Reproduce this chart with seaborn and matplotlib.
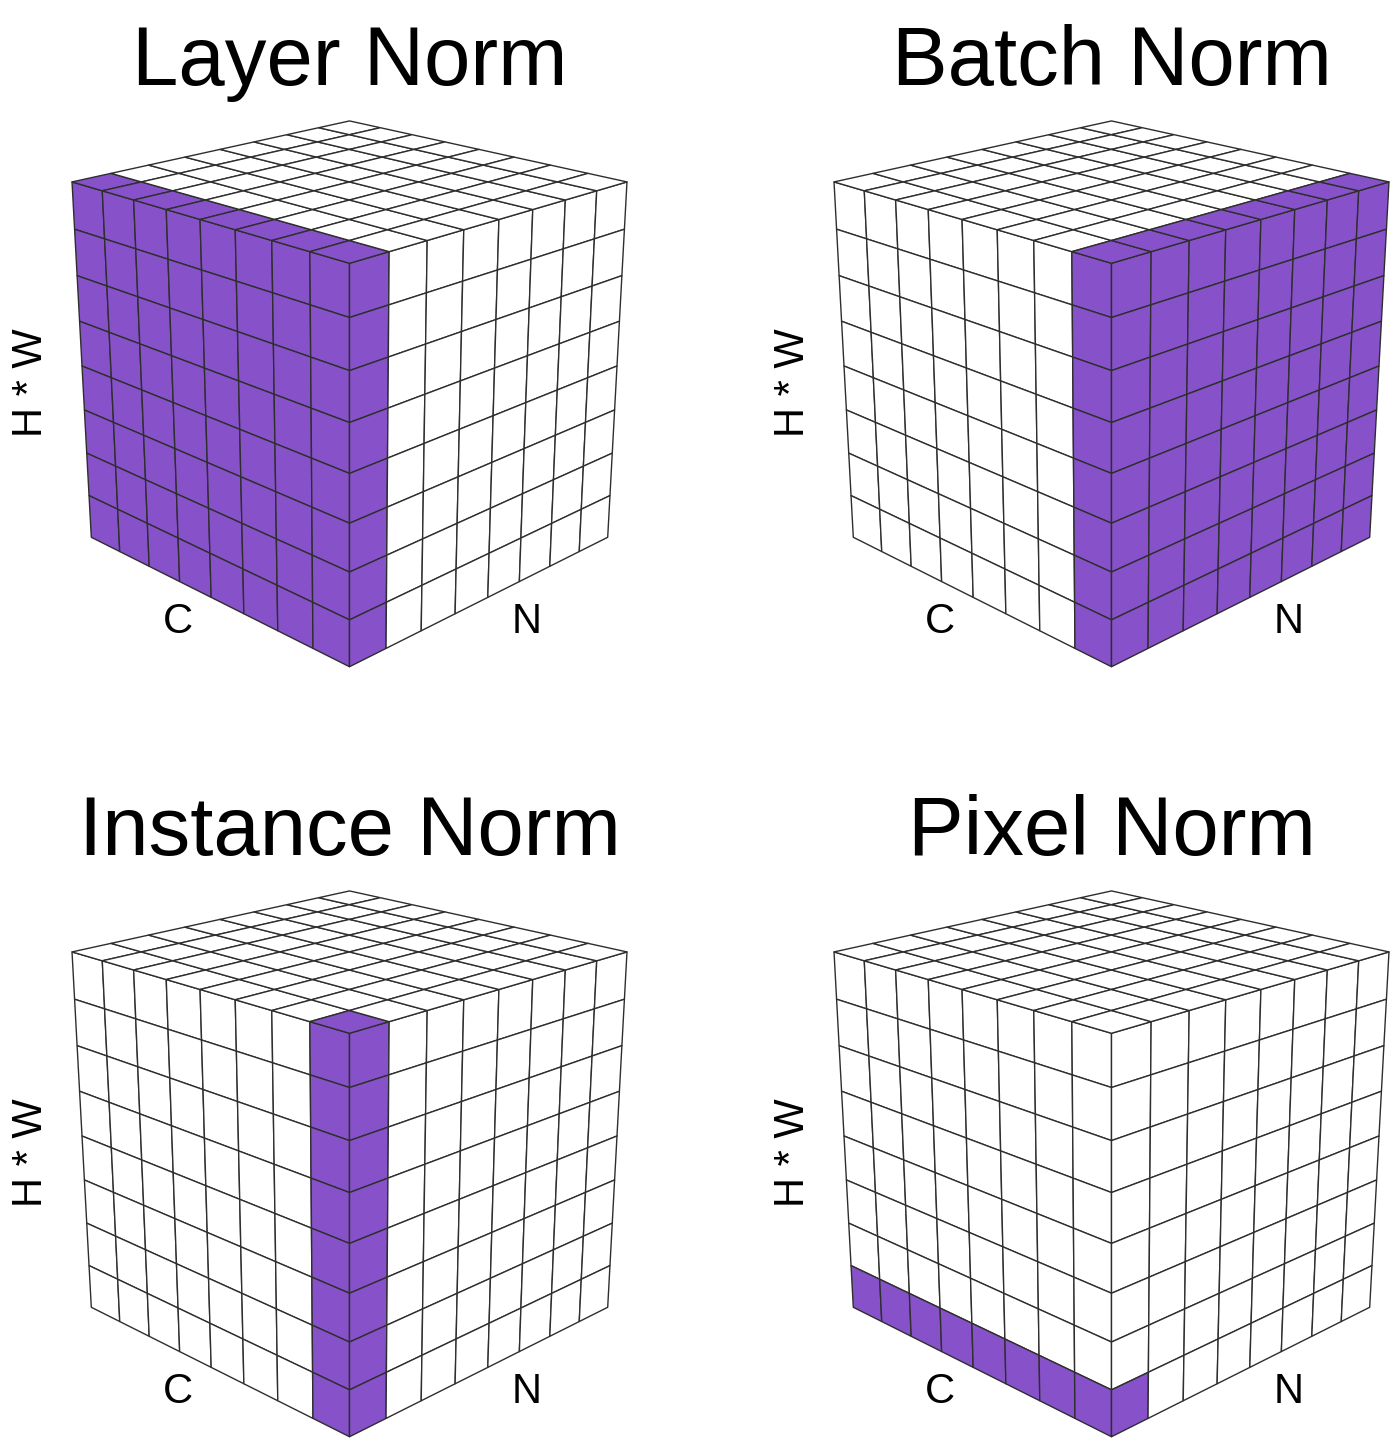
import numpy as np
import seaborn as sns
from matplotlib import pyplot as plt
from matplotlib.collections import PolyCollection

# tensor drawn as an 8 x 8 x 8 cube of cells
grid_size = 8
all_idx = list(range(grid_size))
titles = ["Layer Norm", "Batch Norm", "Instance Norm", "Pixel Norm"]
# which C / N / H*W indices each norm groups together
c_sel = [all_idx, [7], [7], all_idx]
n_sel = [[0], all_idx, [0], [0]]
hw_sel = [all_idx, all_idx, all_idx, [7]]
axis_labels = ["C", "N", "H * W"]

sns.set_theme(style="white")
plt.rcParams["font.family"] = ["Liberation Sans", "DejaVu Sans"]

purple = "#8752c9"
line_col = "#2e2e2e"

W, H = 1397, 1445
fig = plt.figure(figsize=(W / 100, H / 100), dpi=100)
ax = fig.add_axes([0, 0, 1, 1])
ax.set_xlim(0, W)
ax.set_ylim(H, 0)
ax.axis("off")

# simple perspective camera, looking down at the front vertical edge
sin_e = 0.3462
cos_e = np.sqrt(1 - sin_e ** 2)
dist, focal = 9.617, 1819
r2 = np.sqrt(0.5)
view = np.array([r2 * cos_e, -r2 * cos_e, sin_e])
right = np.array([r2, r2, 0.0])
up = np.array([-r2 * sin_e, r2 * sin_e, cos_e])


def project(pts, cx, cy):
    pts = np.asarray(pts, dtype=float)
    depth = dist - pts @ view
    return np.column_stack([cx + focal * (pts @ right) / depth,
                            cy - focal * (pts @ up) / depth])


t = np.linspace(-1, 1, grid_size + 1)
zt = np.linspace(1, -1, grid_size + 1)


def draw_cube(cx, cy, sel):
    polys, colors = [], []
    # left face (C x H*W), at the first N index
    for i in range(grid_size):
        for k in range(grid_size):
            q = [(t[i], -1, zt[k]), (t[i + 1], -1, zt[k]),
                 (t[i + 1], -1, zt[k + 1]), (t[i], -1, zt[k + 1])]
            polys.append(project(q, cx, cy))
            colors.append(purple if sel[i, 0, k] else "white")
    # right face (N x H*W), at the last C index
    for j in range(grid_size):
        for k in range(grid_size):
            q = [(1, t[j], zt[k]), (1, t[j + 1], zt[k]),
                 (1, t[j + 1], zt[k + 1]), (1, t[j], zt[k + 1])]
            polys.append(project(q, cx, cy))
            colors.append(purple if sel[grid_size - 1, j, k] else "white")
    # top face (C x N), at the first H*W index
    for i in range(grid_size):
        for j in range(grid_size):
            q = [(t[i], t[j], 1), (t[i + 1], t[j], 1),
                 (t[i + 1], t[j + 1], 1), (t[i], t[j + 1], 1)]
            polys.append(project(q, cx, cy))
            colors.append(purple if sel[i, j, 0] else "white")
    ax.add_collection(PolyCollection(polys, facecolors=colors,
                                     edgecolors=line_col, linewidths=1.0))


panel_x = [349.5, 1111.5]
panel_y = [366, 1136]

for p, title in enumerate(titles):
    cx = panel_x[p % 2]
    cy = panel_y[p // 2]
    sel = np.zeros((grid_size, grid_size, grid_size), dtype=bool)
    sel[np.ix_(c_sel[p], n_sel[p], hw_sel[p])] = True
    draw_cube(cx, cy, sel)
    ax.text(cx, cy - 281, title, fontsize=60, ha="center", va="baseline", color="black")
    ax.text(cx - 171.5, cy + 256, axis_labels[0], fontsize=30, ha="center", va="center",
            color="black")
    ax.text(cx + 177.5, cy + 256, axis_labels[1], fontsize=30, ha="center", va="center",
            color="black")
    ax.text(cx - 318.5, cy + 17, axis_labels[2], fontsize=30, ha="center", va="center",
            rotation=90, color="black")

plt.savefig("out.png", dpi=100)
